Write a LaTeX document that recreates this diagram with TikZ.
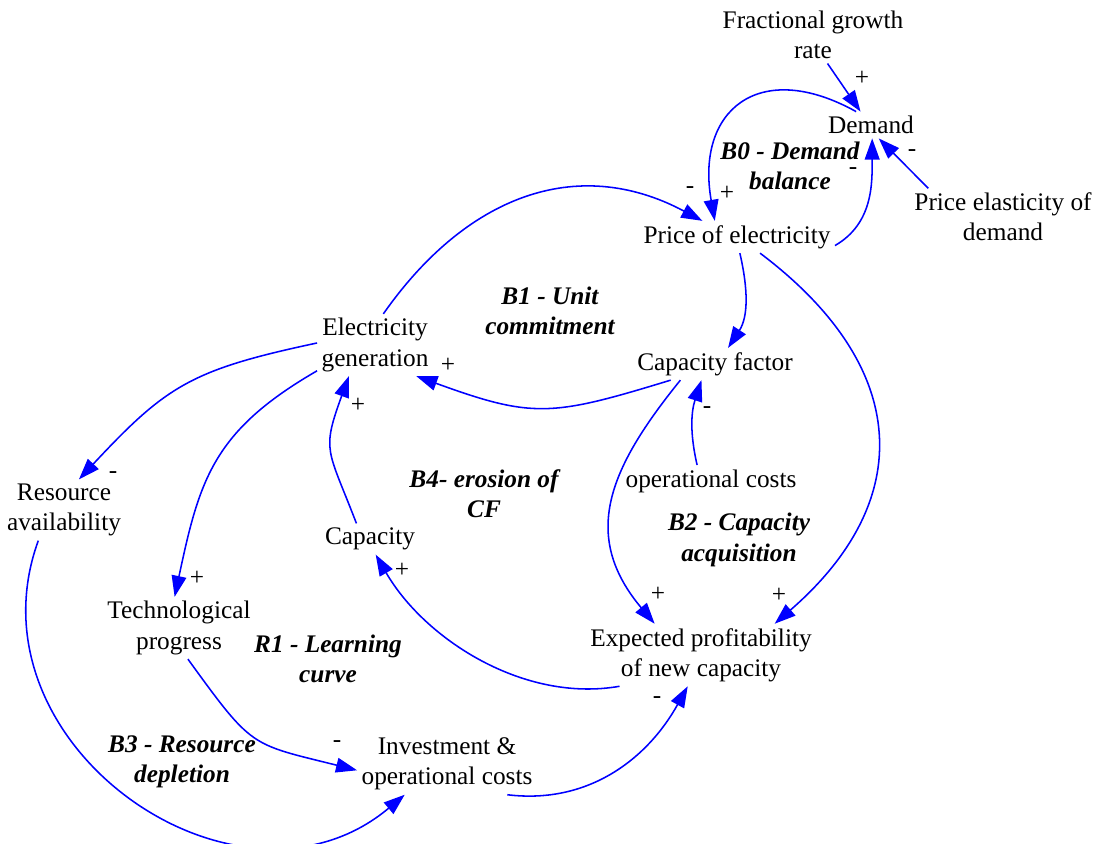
\documentclass[tikz,border=0pt]{standalone}
\usepackage{fontspec}
\setmainfont{Liberation Serif}
\usepackage{tikz}
\usetikzlibrary{arrows.meta}

\begin{document}
\begin{tikzpicture}[x=0.025cm,y=-0.025cm,
		font=\fontsize{18}{21.5}\selectfont,
		var/.style={align=center, inner sep=3pt},
		loop/.style={align=center, inner sep=0pt, font=\fontsize{18}{21.5}\selectfont\bfseries\itshape},
		sign/.style={inner sep=0pt},
		link/.style={blue, line width=1.1pt, -{Triangle[length=15pt,width=10.5pt]}}]
		\useasboundingbox (0,0) rectangle (1098,843);
		% variables
		\node[var] (frac) at (813,35) {Fractional growth\\rate};
		\node[var] (demand) at (871,125) {Demand};
		\node[var] (elastic) at (1003,217) {Price elasticity of\\demand};
		\node[var] (price) at (737,237) {Price of electricity};
		\node[var] (elec) at (375,345) {Electricity\\generation};
		\node[var] (cf) at (715,364) {Capacity factor};
		\node[var] (resource) at (64,510) {Resource\\availability};
		\node[var] (opcost) at (711,481) {operational costs};
		\node[var] (capacity) at (370,539) {Capacity};
		\node[var] (tech) at (179,628) {Technological\\progress};
		\node[var] (expected) at (701,655) {Expected profitability\\of new capacity};
		\node[var] (invest) at (447,764) {Investment \&\\operational costs};
		% loop names
		\node[loop] (loopB0) at (790,166) {B0 - Demand\\balance};
		\node[loop] (loopB1) at (550,311) {B1 - Unit\\commitment};
		\node[loop] (loopB4) at (484,494) {B4- erosion of\\CF};
		\node[loop] (loopB2) at (739,540) {B2 - Capacity\\acquisition};
		\node[loop] (loopR1) at (328,659) {R1 - Learning\\curve};
		\node[loop] (loopB3) at (182,762) {B3 - Resource\\depletion};
		% links
		\draw[link] (frac.297) -- (demand.128);
		\draw[link] (demand.138) to[out=151,in=100,looseness=1.6] (price.144);
		\draw[link] (price.355) to[out=30,in=270] (demand.275);
		\draw[link] (elastic.159) -- (demand.300);
		\draw[link] (elec.75) to[out=55,in=152,looseness=1.1] (price.155);
		\draw[link] (price.280) to[out=283,in=57] (cf.51);
		\draw[link] (price.325) to[out=323,in=41,looseness=1.3] (expected.23);
		\draw[link] (cf.200) to[out=197,in=340,looseness=1.25] (elec.323);
		\draw[link] (opcost.131) to[out=103,in=252] (cf.230);
		\draw[link] (cf.205) to[out=231,in=130,looseness=1.2] (expected.146);
		\draw[link] (expected.201) to[out=190,in=300,looseness=0.9] (capacity.290);
		\draw[link] (capacity.131) to[out=111,in=250,looseness=1.4] (elec.230);
		\draw[link] (elec.178) to[out=192,in=47,looseness=1.2] (resource.64);
		\draw[link] (elec.204) to[out=210,in=78,looseness=1.15] (tech.98);
		\draw[link] (tech.286) to[out=306,in=166,looseness=1.4] (invest.184);
		\draw[link] (resource.230) to[out=250,in=220,looseness=1.25] (invest.216);
		\draw[link] (invest.333) to[out=353,in=241] (expected.247);
		% polarities
		\node[sign] (sFrac) at (862,78) {+};
		\node[sign] (sDemand) at (727,193) {+};
		\node[sign] (sGenPrice) at (690,190) {-};
		\node[sign] (sPriceDem) at (853,171) {-};
		\node[sign] (sElastic) at (912,153) {-};
		\node[sign] (sCfGen) at (448,365) {+};
		\node[sign] (sOpcost) at (707,410) {-};
		\node[sign] (sCapGen) at (358,405) {+};
		\node[sign] (sResource) at (113,475) {-};
		\node[sign] (sTech) at (197,578) {+};
		\node[sign] (sCapacity) at (402,570) {+};
		\node[sign] (sCfExp) at (658,594) {+};
		\node[sign] (sPriceExp) at (779,595) {+};
		\node[sign] (sTechInv) at (337,744) {-};
		\node[sign] (sInvExp) at (657,700) {-};
	\end{tikzpicture}
\end{document}
